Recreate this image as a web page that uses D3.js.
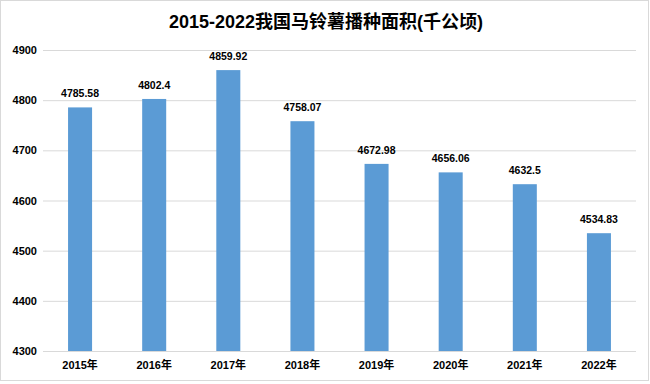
<!DOCTYPE html>
<html>
<head>
<meta charset="utf-8">
<script src="https://cdn.jsdelivr.net/npm/d3@7"></script>
<style>
  body { margin: 0; background: #fff; }
  text { font-family: "Liberation Sans", "Noto Sans CJK SC", sans-serif; }
</style>
</head>
<body>
<div id="chart"></div>
<script>
var years = ["2015年", "2016年", "2017年", "2018年", "2019年", "2020年", "2021年", "2022年"];
var areas = [4785.58, 4802.4, 4859.92, 4758.07, 4672.98, 4656.06, 4632.5, 4534.83];
var yTicks = [4300, 4400, 4500, 4600, 4700, 4800, 4900];

var svgWidth = 650;
var svgHeight = 384;
var margin = { top: 50, right: 14, bottom: 33, left: 43 };
var width = svgWidth - margin.left - margin.right;
var height = svgHeight - margin.top - margin.bottom;

var svg = d3.select("#chart")
  .append("svg")
  .attr("width", svgWidth)
  .attr("height", svgHeight);

// outer border
svg.append("rect")
  .attr("x", 0.5).attr("y", 0.5)
  .attr("width", svgWidth - 2).attr("height", svgHeight - 4)
  .attr("fill", "#fff")
  .attr("stroke", "#d9d9d9");

svg.append("text")
  .attr("x", 326)
  .attr("y", 28)
  .attr("text-anchor", "middle")
  .attr("font-size", "18px")
  .attr("font-weight", "bold")
  .attr("fill", "#000")
  .text("2015-2022我国马铃薯播种面积(千公顷)");

var chartGroup = svg.append("g")
  .attr("transform", `translate(${margin.left}, ${margin.top})`);

var x = d3.scaleBand()
  .domain(years)
  .range([0, width])
  .paddingInner(0.676)
  .paddingOuter(0.338);

var y = d3.scaleLinear()
  .domain([4300, 4900])
  .range([height, 0]);

// gridlines
chartGroup.append("g")
  .call(d3.axisLeft(y).tickValues(yTicks).tickSize(-width).tickFormat(""))
  .call(g => g.select(".domain").remove())
  .call(g => g.selectAll("line").attr("stroke", "#d9d9d9"));

// y labels
chartGroup.append("g")
  .call(d3.axisLeft(y).tickValues(yTicks).tickSize(0).tickPadding(6).tickFormat(d3.format("d")))
  .call(g => g.select(".domain").remove())
  .call(g => g.selectAll("text")
    .attr("font-size", "11px").attr("font-weight", "bold").attr("fill", "#000")
    .style("font-family", "Liberation Sans, sans-serif"));

// x labels
chartGroup.append("g")
  .attr("transform", `translate(0, ${height})`)
  .call(d3.axisBottom(x).tickSize(0).tickPadding(10))
  .call(g => g.select(".domain").remove())
  .call(g => g.selectAll("text")
    .attr("font-size", "11px").attr("font-weight", "bold").attr("fill", "#000")
    .style("font-family", "Liberation Sans, Noto Sans CJK SC, sans-serif"));

// bars
chartGroup.selectAll("rect.bar")
  .data(areas)
  .enter()
  .append("rect")
  .attr("class", "bar")
  .attr("x", (d, i) => x(years[i]))
  .attr("y", d => y(d))
  .attr("width", x.bandwidth())
  .attr("height", d => height - y(d))
  .attr("fill", "#5b9bd5");

// value labels
chartGroup.selectAll("text.val")
  .data(areas)
  .enter()
  .append("text")
  .attr("class", "val")
  .attr("x", (d, i) => x(years[i]) + x.bandwidth() / 2)
  .attr("y", d => y(d) - 10)
  .attr("text-anchor", "middle")
  .attr("font-size", "10.5px")
  .attr("font-weight", "bold")
  .attr("fill", "#000")
  .text(d => d);
</script>
</body>
</html>
